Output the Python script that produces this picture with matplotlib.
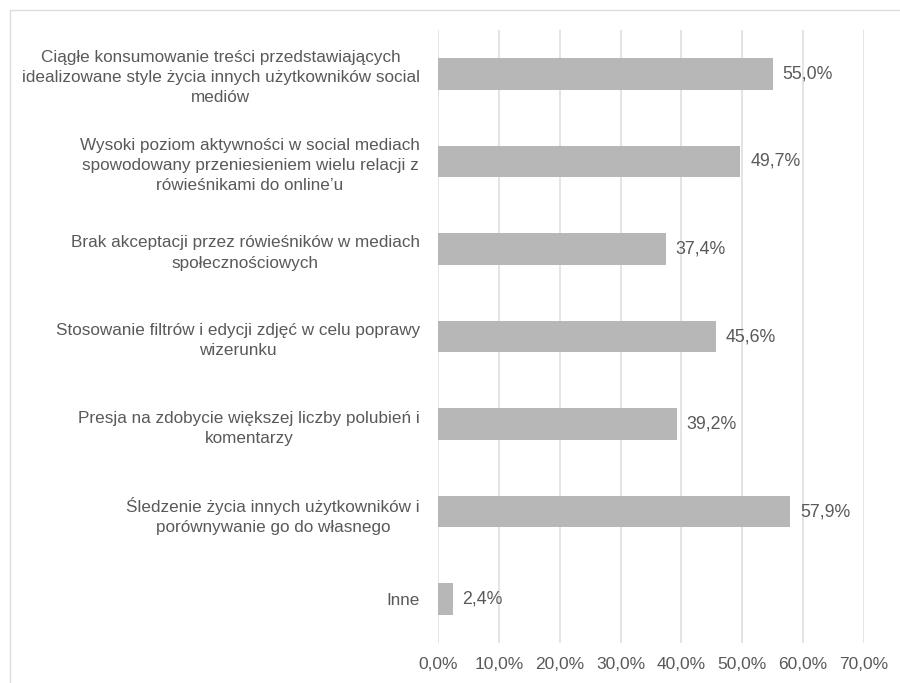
import matplotlib.pyplot as plt
from matplotlib.patches import Rectangle

plt.rcParams['font.family'] = ['Liberation Sans', 'DejaVu Sans']

categories = [
    'Ciągłe konsumowanie treści przedstawiających\nidealizowane style życia innych użytkowników social\nmediów',
    'Wysoki poziom aktywności w social mediach\nspowodowany przeniesieniem wielu relacji z\nrówieśnikami do online\u2019u',
    'Brak akceptacji przez rówieśników w mediach\nspołecznościowych',
    'Stosowanie filtrów i edycji zdjęć w celu poprawy\nwizerunku',
    'Presja na zdobycie większej liczby polubień i\nkomentarzy',
    'Śledzenie życia innych użytkowników i\nporównywanie go do własnego',
    'Inne',
]
values = [55.0, 49.7, 37.4, 45.6, 39.2, 57.9, 2.4]
xticks = [0, 10, 20, 30, 40, 50, 60, 70]

text_color = '#595959'
bar_color = '#B7B7B7'
grid_color = '#DCDCDC'

fig = plt.figure(figsize=(9, 6.83), dpi=100)
ax = fig.add_axes([0.4867, 0.0585, 0.4733, 0.8975])

# thin frame around the chart area
fig.patches.append(Rectangle((10 / 900, -0.5), 2, 1.5 - 10 / 683, transform=fig.transFigure,
                             fill=False, edgecolor=grid_color, linewidth=1))

pos = list(range(len(categories)))[::-1]
ax.barh(pos, values, height=0.36, color=bar_color, zorder=3)

for p, v in zip(pos, values):
    ax.text(v + 1.6, p, f'{v:.1f}%'.replace('.', ','), va='center', ha='left',
            fontsize=12.8, color=text_color, zorder=4)

ax.set_xlim(0, 70)
ax.set_ylim(-0.5, len(categories) - 0.5)
ax.set_xticks(xticks)
ax.set_xticklabels([f'{t:.1f}%'.replace('.', ',') for t in xticks], fontsize=12.5)
ax.set_yticks(pos)
ax.set_yticklabels(categories, multialignment='center', fontsize=12.3, linespacing=1.42)

ax.grid(axis='x', color=grid_color, linewidth=1.1, zorder=0)
for s in ax.spines.values():
    s.set_visible(False)
ax.tick_params(axis='both', length=0, labelcolor=text_color)
ax.tick_params(axis='y', pad=13)
ax.tick_params(axis='x', pad=10)

plt.savefig('out.png', dpi=100)
